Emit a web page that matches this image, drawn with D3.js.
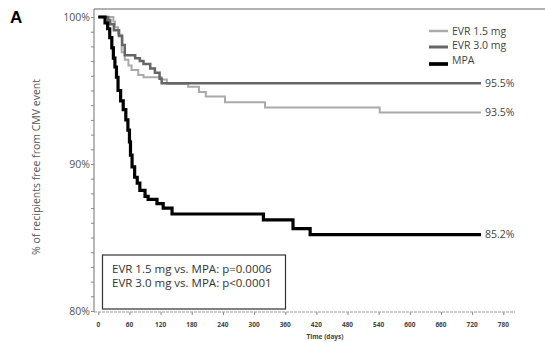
<!DOCTYPE html>
<html>
<head>
<meta charset="utf-8">
<script src="https://cdn.jsdelivr.net/npm/d3@7"></script>
<style>
  body { margin: 0; background: #fff; }
  svg { display: block; font-family: "Open Sans", sans-serif; }
</style>
</head>
<body>
<div id="chart"></div>
<script>
// Kaplan-Meier steps: [day, % free from CMV event]
const evr15 = [[0,100],[29,99.7],[32,99.3],[38,98.8],[45,97.6],[51,97.1],[58,96.7],[64,96.4],[77,96.05],[87,95.9],
  [122,95.75],[132,95.45],[173,95.25],[194,94.9],[207,94.6],[244,94.2],[321,93.85],[542,93.5],[737,93.5]];
const evr30 = [[0,100],[19,99.8],[23,99.5],[30,99.1],[40,98.7],[46,98.1],[51,97.4],[71,97.2],[80,97.0],[87,96.8],
  [100,96.5],[109,96.2],[118,95.8],[122,95.5],[737,95.5]];
const mpa = [[0,100],[13,99.6],[18,99.2],[22,98.6],[26,97.9],[29,97.2],[32,96.6],[35,95.9],[38,95.0],[43,94.3],
  [48,93.7],[53,93.0],[57,92.3],[60,91.5],[62,90.6],[65,89.8],[70,89.1],[75,88.7],[80,88.2],[90,87.8],[96,87.6],
  [113,87.3],[125,87.0],[142,86.6],[318,86.2],[375,85.6],[408,85.2],[737,85.2]];

const seriesNames = ["EVR 1.5 mg", "EVR 3.0 mg", "MPA"];
const endLabels = ["93.5%", "95.5%", "85.2%"];
const xTicks = [0,60,120,180,240,300,360,420,480,540,600,660,720,780];
const yTicks = [80, 90, 100];
const pLines = ["EVR 1.5 mg vs. MPA: p=0.0006", "EVR 3.0 mg vs. MPA: p<0.0001"];

const width = 545, height = 342;
const colors = ["#aaaaaa", "#666666", "#000000"];
const widths = [2, 2.5, 3.2];

const svg = d3.select("#chart").append("svg")
  .attr("width", width).attr("height", height)
  .attr("viewBox", `0 0 ${width} ${height}`);

const x = d3.scaleLinear().domain([0, 780]).range([98.3, 503.3]);
const y = d3.scaleLinear().domain([80, 100]).range([311, 17]);

// frame: top line and left axis
svg.append("line").attr("x1", 94).attr("x2", width).attr("y1", 9).attr("y2", 9)
  .attr("stroke", "#999").attr("stroke-width", 1.5);

// y axis
const yAxis = svg.append("g").attr("transform", "translate(94,0)")
  .call(d3.axisLeft(y).tickValues(d3.range(80, 101, 1)).tickSize(3).tickFormat(""));
yAxis.select(".domain").remove();
yAxis.selectAll("line").attr("stroke", "#888");
svg.append("line").attr("x1", 94).attr("x2", 94).attr("y1", 9).attr("y2", 312)
  .attr("stroke", "#888").attr("stroke-width", 1.2);

svg.append("g").selectAll("text").data(yTicks).enter().append("text")
  .attr("x", 90).attr("y", d => y(d)).attr("dy", "0.35em")
  .attr("text-anchor", "end").attr("font-size", 10.5).attr("fill", "#555")
  .text(d => d + "%");

// x axis
const xAxis = svg.append("g").attr("transform", "translate(0,312)")
  .call(d3.axisBottom(x).tickValues(xTicks).tickSize(3).tickFormat(""));
xAxis.select(".domain").remove();
xAxis.selectAll("line").attr("stroke", "#888");
svg.append("line").attr("x1", 94).attr("x2", 515).attr("y1", 312).attr("y2", 312)
  .attr("stroke", "#999").attr("stroke-width", 1.2).attr("stroke-dasharray", "3,1");

svg.append("g").selectAll("text").data(xTicks).enter().append("text")
  .attr("x", d => x(d)).attr("y", 327)
  .attr("text-anchor", "middle").attr("font-size", 6.5).attr("font-weight", "bold").attr("fill", "#444")
  .text(d => d);

svg.append("text").attr("x", 325).attr("y", 339).attr("text-anchor", "middle")
  .attr("font-size", 6.5).attr("font-weight", "bold").attr("fill", "#444").text("Time (days)");

svg.append("text").attr("transform", "translate(40,167) rotate(-90)")
  .attr("text-anchor", "middle").attr("font-size", 10.5).attr("fill", "#555")
  .text("% of recipients free from CMV event");

svg.append("text").attr("x", 10).attr("y", 23).attr("font-size", 17).attr("font-weight", "bold")
  .attr("font-family", "Liberation Sans, Arial, sans-serif").text("A");

// curves
const line = d3.line().x(d => x(d[0])).y(d => y(d[1])).curve(d3.curveStepAfter);
[evr15, evr30, mpa].forEach((s, i) => {
  svg.append("path").datum(s).attr("d", line).attr("fill", "none")
    .attr("stroke", colors[i]).attr("stroke-width", widths[i]);
});

// end labels
[evr15, evr30, mpa].forEach((s, i) => {
  const last = s[s.length - 1];
  svg.append("text").attr("x", x(last[0]) + 4).attr("y", y(last[1])).attr("dy", "0.35em")
    .attr("font-size", 10.5).attr("fill", "#444").text(endLabels[i]);
});

// legend
const legendY = [31, 47, 64];
const legendTextY = [31, 45.5, 60.5];
seriesNames.forEach((n, i) => {
  svg.append("line").attr("x1", 429).attr("x2", 448).attr("y1", legendY[i]).attr("y2", legendY[i])
    .attr("stroke", colors[i]).attr("stroke-width", widths[i] + 0.5);
  svg.append("text").attr("x", 452).attr("y", legendTextY[i]).attr("dy", "0.35em")
    .attr("font-size", 10.5).attr("fill", "#444").text(n);
});

// p-value box
svg.append("rect").attr("x", 102.5).attr("y", 255).attr("width", 183).attr("height", 54)
  .attr("fill", "#fff").attr("stroke", "#333").attr("stroke-width", 1.2);
pLines.forEach((t, i) => {
  svg.append("text").attr("x", 112).attr("y", 269 + i * 14).attr("dy", "0.35em")
    .attr("font-size", 11.5).attr("fill", "#333").text(t);
});
</script>
</body>
</html>
